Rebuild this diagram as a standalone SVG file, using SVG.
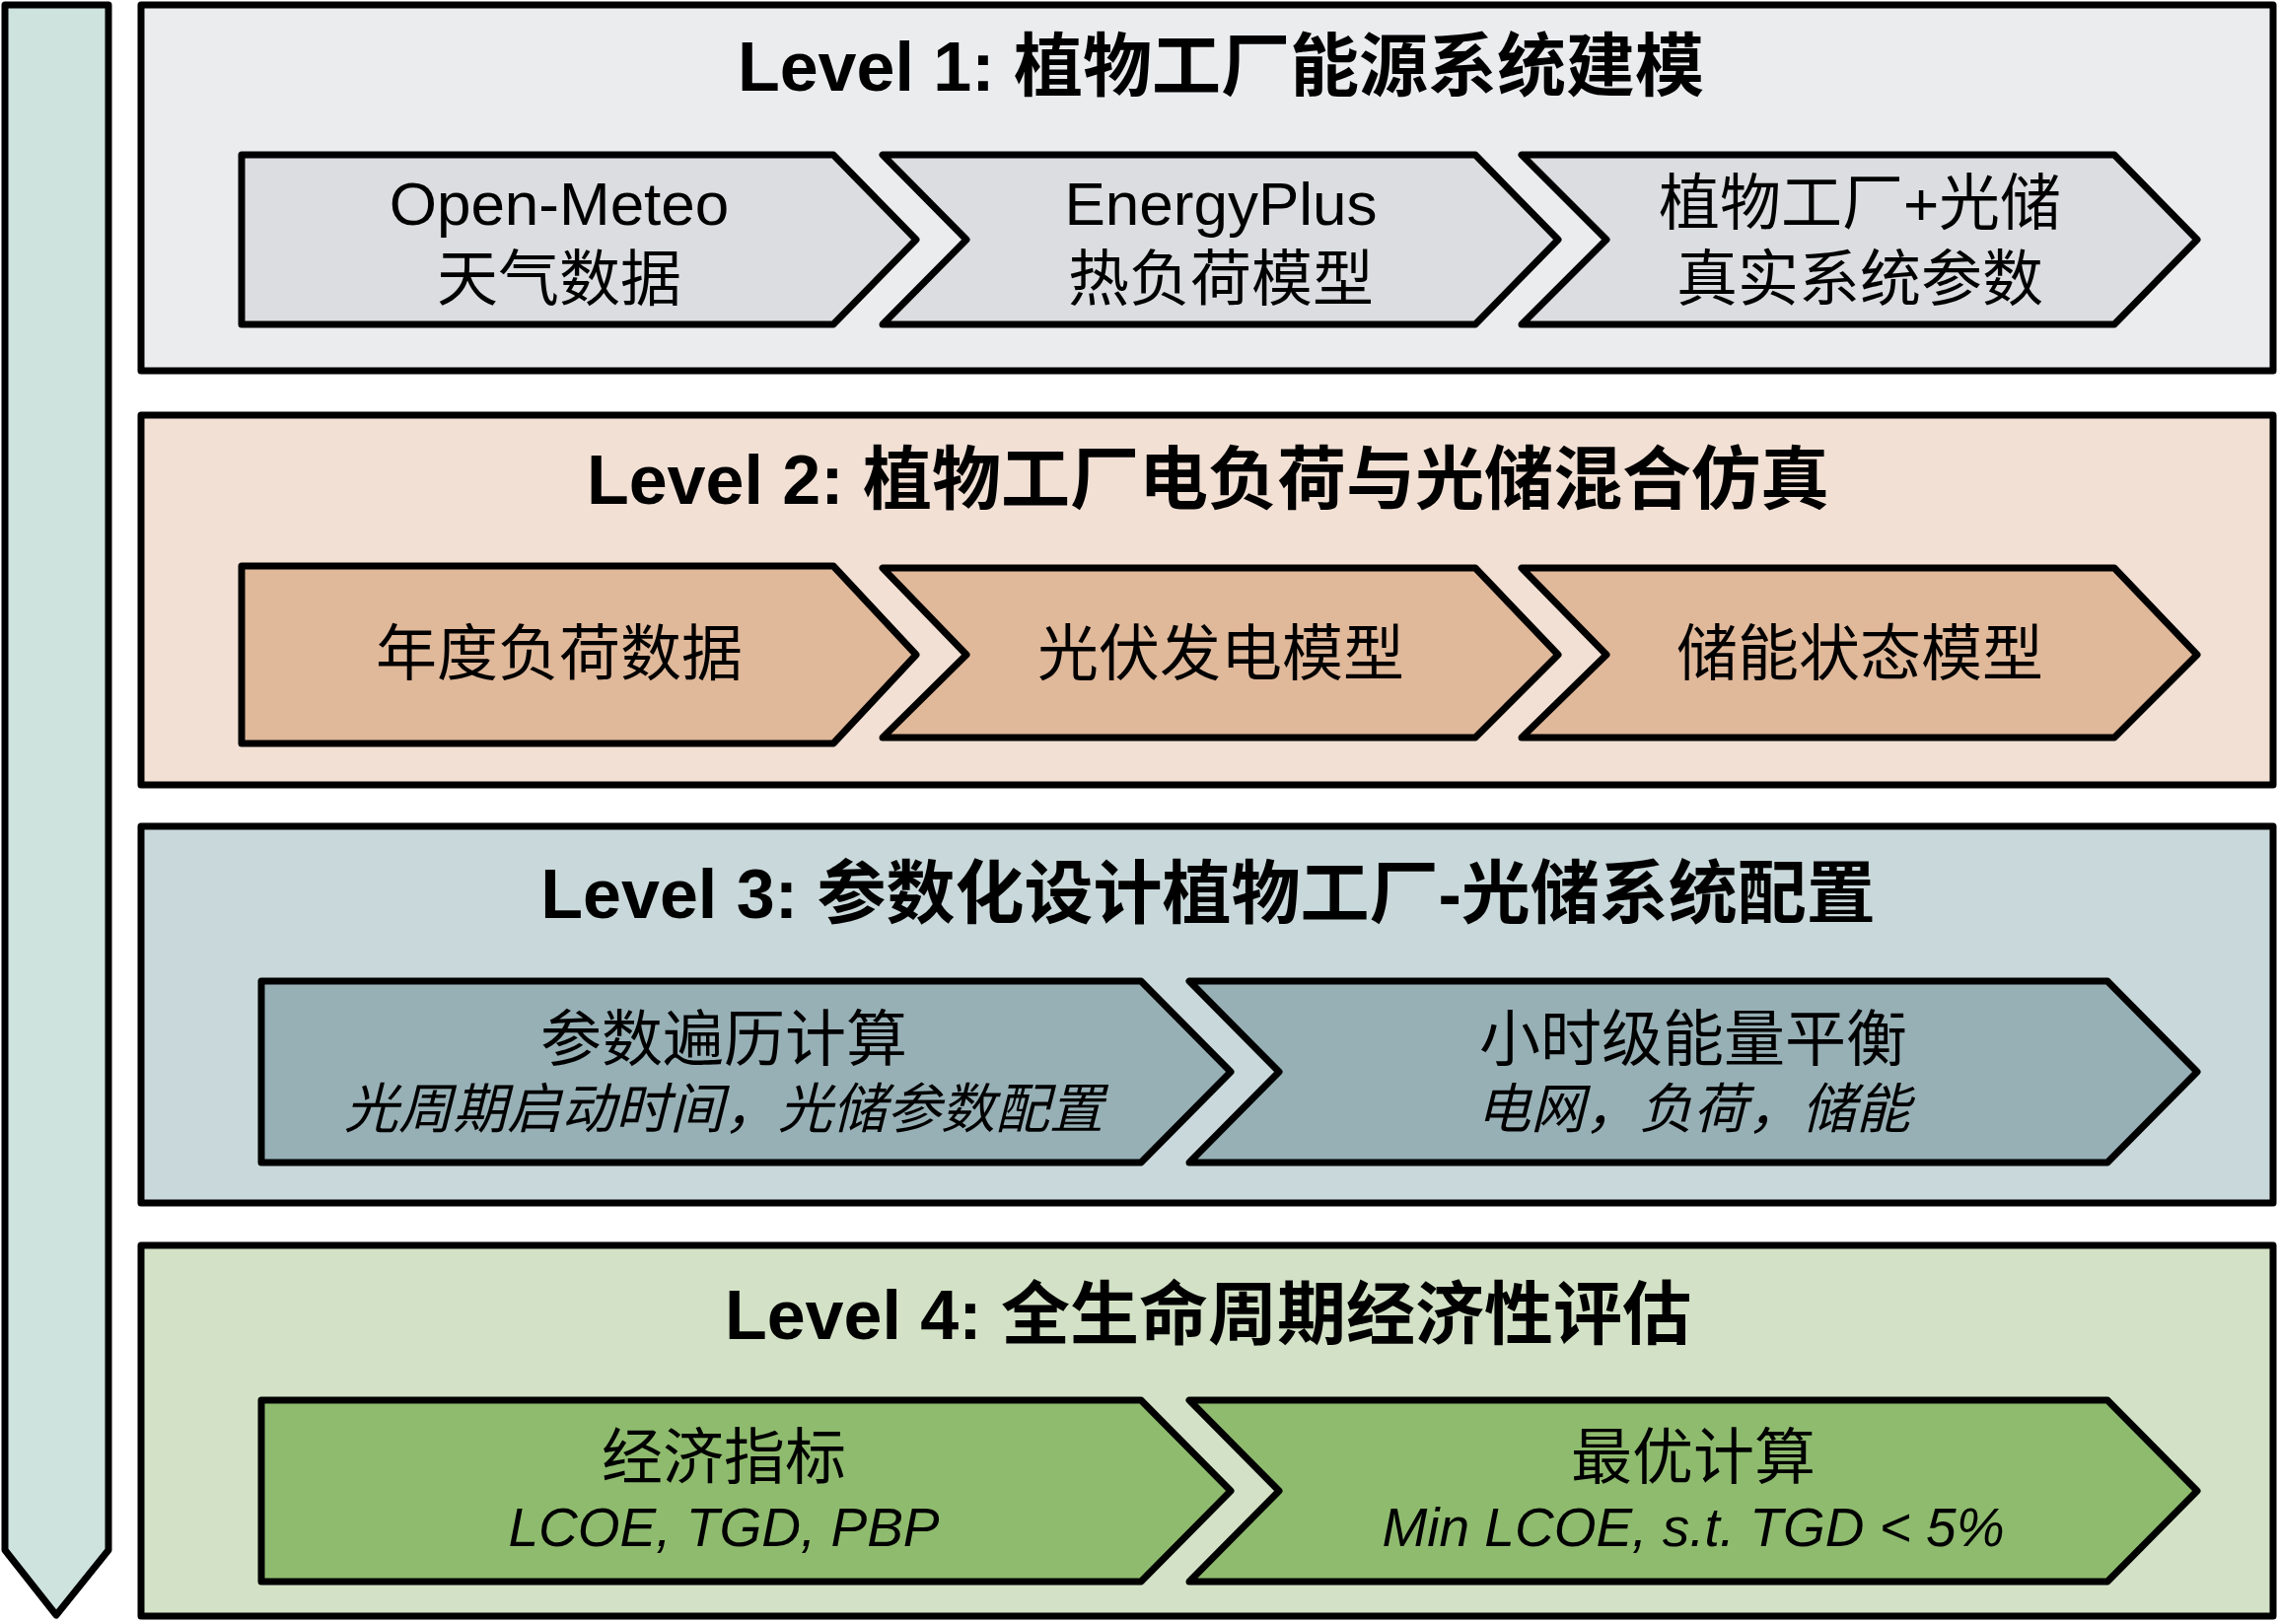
<svg xmlns="http://www.w3.org/2000/svg" width="2311" height="1647" viewBox="0 0 2311 1647">
<style>
.o{stroke:#000;stroke-width:7;stroke-linejoin:round}
.t{font-family:"Liberation Sans","Noto Sans CJK SC",sans-serif;font-weight:bold;font-size:70px;text-anchor:middle}
.n{font-family:"Liberation Sans","Noto Sans CJK SC",sans-serif;font-size:62px;text-anchor:middle}
.i{font-family:"Liberation Sans","Noto Sans CJK SC",sans-serif;font-size:55px;font-style:italic;text-anchor:middle}
</style>
<g id="bar"><path class="o" fill="#cfe3de" d="M5,5 H110 V1572 L57,1638 L5,1572 Z"/></g>
<g id="level1">
<rect class="o" fill="#ebecee" x="143" y="5" width="2162" height="371"/>
<text class="t" x="1238" y="92">Level 1: 植物工厂能源系统建模</text>
<path class="o" fill="#dcdde0" d="M245,157 H845 L929,243 L845,329 H245 Z"/>
<path class="o" fill="#dcdde0" d="M895,157 H1496 L1580,243 L1496,329 H895 L980,243 Z"/>
<path class="o" fill="#dcdde0" d="M1543,157 H2144 L2228,243 L2144,329 H1543 L1629,243 Z"/>
<text class="n" x="567" y="228">Open-Meteo</text><text class="n" x="567" y="305">天气数据</text>
<text class="n" x="1238" y="228">EnergyPlus</text><text class="n" x="1238" y="305">热负荷模型</text>
<text class="n" x="1886" y="228">植物工厂+光储</text><text class="n" x="1886" y="305">真实系统参数</text>
</g>
<g id="level2">
<rect class="o" fill="#f2e0d5" x="143" y="421" width="2162" height="375"/>
<text class="t" x="1225" y="511">Level 2: 植物工厂电负荷与光储混合仿真</text>
<path class="o" fill="#e0b89a" d="M245,574 H845 L929,664 L845,754 H245 Z"/>
<path class="o" fill="#e0b89a" d="M895,576 H1496 L1580,664 L1496,748 H895 L980,664 Z"/>
<path class="o" fill="#e0b89a" d="M1543,576 H2144 L2228,664 L2144,748 H1543 L1629,664 Z"/>
<text class="n" x="567" y="685">年度负荷数据</text>
<text class="n" x="1238" y="685">光伏发电模型</text>
<text class="n" x="1886" y="685">储能状态模型</text>
</g>
<g id="level3">
<rect class="o" fill="#c9d8da" x="143" y="838" width="2162" height="382"/>
<text class="t" x="1225" y="931">Level 3: 参数化设计植物工厂-光储系统配置</text>
<path class="o" fill="#97b0b6" d="M265,995 H1157 L1248,1087 L1157,1179 H265 Z"/>
<path class="o" fill="#97b0b6" d="M1206,995 H2137 L2228,1087 L2137,1179 H1206 L1297,1087 Z"/>
<text class="n" x="734" y="1076">参数遍历计算</text>
<text class="i" x="734" y="1144">光周期启动时间，光储参数配置</text>
<text class="n" x="1717" y="1076">小时级能量平衡</text>
<text class="i" x="1717" y="1144">电网，负荷，储能</text>
</g>
<g id="level4">
<rect class="o" fill="#d3e2c6" x="143" y="1263" width="2162" height="376"/>
<text class="t" x="1225" y="1358">Level 4: 全生命周期经济性评估</text>
<path class="o" fill="#8fbb6e" d="M265,1420 H1157 L1248,1512 L1157,1604 H265 Z"/>
<path class="o" fill="#8fbb6e" d="M1206,1420 H2137 L2228,1512 L2137,1604 H1206 L1297,1512 Z"/>
<text class="n" x="734" y="1500">经济指标</text>
<text class="i" x="734" y="1568">LCOE, TGD, PBP</text>
<text class="n" x="1717" y="1500">最优计算</text>
<text class="i" x="1717" y="1568">Min LCOE, s.t. TGD &lt; 5%</text>
</g>
</svg>
